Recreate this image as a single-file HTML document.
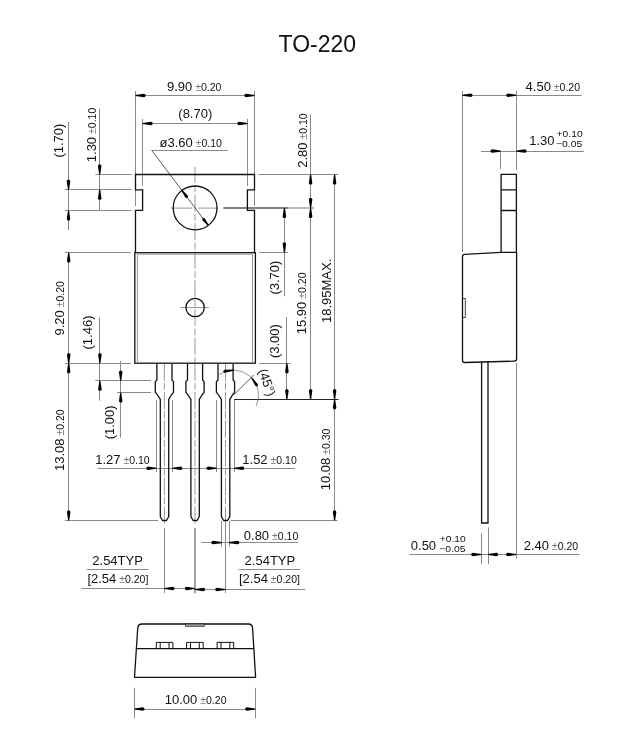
<!DOCTYPE html><html><head><meta charset="utf-8"><style>html,body{margin:0;padding:0;background:#fff;}svg{display:block;will-change:transform}</style></head><body>
<svg width="629" height="732" viewBox="0 0 629 732" font-family="Liberation Sans, sans-serif" fill="#111">
<line x1="195" y1="167" x2="195" y2="363" stroke="#9a9a9a" stroke-width="1" stroke-dasharray="17.2 2.2 7 2.2" stroke-dashoffset="1.1"/>
<line x1="171" y1="208.1" x2="192.4" y2="208.1" stroke="#9a9a9a" stroke-width="1" />
<line x1="198" y1="208.1" x2="218" y2="208.1" stroke="#9a9a9a" stroke-width="1" />
<line x1="180" y1="307.5" x2="209" y2="307.5" stroke="#9a9a9a" stroke-width="1" />
<line x1="164.4" y1="363.4" x2="164.4" y2="523.8" stroke="#9a9a9a" stroke-width="1" stroke-dasharray="17.2 2.2 7 2.2"/>
<line x1="195.0" y1="363.4" x2="195.0" y2="523.8" stroke="#9a9a9a" stroke-width="1" stroke-dasharray="17.2 2.2 7 2.2"/>
<line x1="225.5" y1="363.4" x2="225.5" y2="523.8" stroke="#9a9a9a" stroke-width="1" stroke-dasharray="17.2 2.2 7 2.2"/>
<line x1="135.5" y1="91" x2="135.5" y2="206" stroke="#8a8a8a" stroke-width="1" />
<line x1="254.5" y1="91" x2="254.5" y2="206" stroke="#8a8a8a" stroke-width="1" />
<line x1="135.5" y1="95.5" x2="254.5" y2="95.5" stroke="#8a8a8a" stroke-width="1" />
<line x1="142.5" y1="119" x2="142.5" y2="186" stroke="#8a8a8a" stroke-width="1" />
<line x1="247.5" y1="119" x2="247.5" y2="186" stroke="#8a8a8a" stroke-width="1" />
<line x1="142.5" y1="123.5" x2="247.5" y2="123.5" stroke="#8a8a8a" stroke-width="1" />
<line x1="151.7" y1="150.5" x2="227.7" y2="150.5" stroke="#8a8a8a" stroke-width="1" />
<line x1="151.7" y1="150.3" x2="208.3" y2="225.4" stroke="#333" stroke-width="0.8" />
<line x1="95.4" y1="174.5" x2="131.5" y2="174.5" stroke="#8a8a8a" stroke-width="1" />
<line x1="65" y1="189.5" x2="131.5" y2="189.5" stroke="#8a8a8a" stroke-width="1" />
<line x1="65" y1="210.5" x2="131.5" y2="210.5" stroke="#8a8a8a" stroke-width="1" />
<line x1="65" y1="252.5" x2="130.8" y2="252.5" stroke="#8a8a8a" stroke-width="1" />
<line x1="65" y1="363.5" x2="130.8" y2="363.5" stroke="#8a8a8a" stroke-width="1" />
<line x1="95.2" y1="380.5" x2="151" y2="380.5" stroke="#8a8a8a" stroke-width="1" />
<line x1="117" y1="392.5" x2="151" y2="392.5" stroke="#8a8a8a" stroke-width="1" />
<line x1="65" y1="520.5" x2="158.3" y2="520.5" stroke="#8a8a8a" stroke-width="1" />
<line x1="68.5" y1="122" x2="68.5" y2="230" stroke="#8a8a8a" stroke-width="1" />
<line x1="99.5" y1="108.6" x2="99.5" y2="210.4" stroke="#8a8a8a" stroke-width="1" />
<line x1="68.5" y1="252.5" x2="68.5" y2="520.5" stroke="#8a8a8a" stroke-width="1" />
<line x1="99.5" y1="317.4" x2="99.5" y2="400.6" stroke="#8a8a8a" stroke-width="1" />
<line x1="120.5" y1="361" x2="120.5" y2="437.7" stroke="#8a8a8a" stroke-width="1" />
<line x1="156.5" y1="400" x2="156.5" y2="472" stroke="#8a8a8a" stroke-width="1" />
<line x1="172.5" y1="400" x2="172.5" y2="472" stroke="#8a8a8a" stroke-width="1" />
<line x1="216.5" y1="400" x2="216.5" y2="472" stroke="#8a8a8a" stroke-width="1" />
<line x1="234.5" y1="400" x2="234.5" y2="472" stroke="#8a8a8a" stroke-width="1" />
<line x1="98" y1="468.5" x2="295" y2="468.5" stroke="#8a8a8a" stroke-width="1" />
<line x1="258.6" y1="174.5" x2="338.3" y2="174.5" stroke="#8a8a8a" stroke-width="1" />
<line x1="223.3" y1="208.0" x2="288.2" y2="208.0" stroke="#555" stroke-width="1.5" />
<line x1="288.2" y1="208.0" x2="314" y2="208.0" stroke="#8a8a8a" stroke-width="1.2" />
<line x1="259" y1="252.5" x2="288.1" y2="252.5" stroke="#8a8a8a" stroke-width="1" />
<line x1="259" y1="363.5" x2="290.5" y2="363.5" stroke="#8a8a8a" stroke-width="1" />
<line x1="234.1" y1="399.5" x2="338.5" y2="399.5" stroke="#222" stroke-width="1" />
<line x1="230.5" y1="520.5" x2="337.4" y2="520.5" stroke="#8a8a8a" stroke-width="1" />
<line x1="310.5" y1="114.3" x2="310.5" y2="399.3" stroke="#8a8a8a" stroke-width="1" />
<line x1="334.5" y1="174.5" x2="334.5" y2="520.5" stroke="#8a8a8a" stroke-width="1" />
<line x1="284.5" y1="208" x2="284.5" y2="296.3" stroke="#8a8a8a" stroke-width="1" />
<line x1="286.5" y1="317.2" x2="286.5" y2="399.3" stroke="#8a8a8a" stroke-width="1" />
<path d="M218.95,374.66 A25.2,25.2 0 0 1 256.24,405.95" fill="none" stroke="#777" stroke-width="0.8"/>
<line x1="233.6" y1="395.1" x2="253.8" y2="374.9" stroke="#333" stroke-width="0.8" />
<line x1="164.5" y1="528" x2="164.5" y2="593" stroke="#8a8a8a" stroke-width="1" />
<line x1="195" y1="528" x2="195" y2="593.3" stroke="#8a8a8a" stroke-width="1.6" />
<line x1="225.5" y1="521.4" x2="225.5" y2="593" stroke="#8a8a8a" stroke-width="1" />
<line x1="221.5" y1="521" x2="221.5" y2="546.6" stroke="#8a8a8a" stroke-width="1" />
<line x1="229.5" y1="521" x2="229.5" y2="546.6" stroke="#8a8a8a" stroke-width="1" />
<line x1="201.5" y1="542.5" x2="298" y2="542.5" stroke="#8a8a8a" stroke-width="1" />
<line x1="81.4" y1="588.5" x2="195" y2="588.5" stroke="#8a8a8a" stroke-width="1" />
<line x1="195" y1="589.5" x2="305.4" y2="589.5" stroke="#8a8a8a" stroke-width="1" />
<line x1="86.9" y1="569.5" x2="148.4" y2="569.5" stroke="#8a8a8a" stroke-width="1" />
<line x1="238.6" y1="569.5" x2="300" y2="569.5" stroke="#8a8a8a" stroke-width="1" />
<line x1="462.5" y1="91" x2="462.5" y2="252" stroke="#8a8a8a" stroke-width="1" />
<line x1="516.5" y1="91" x2="516.5" y2="170" stroke="#8a8a8a" stroke-width="1" />
<line x1="500.5" y1="151" x2="500.5" y2="169" stroke="#8a8a8a" stroke-width="1" />
<line x1="462.4" y1="95.5" x2="581.7" y2="95.5" stroke="#8a8a8a" stroke-width="1" />
<line x1="481" y1="151.5" x2="584.1" y2="151.5" stroke="#8a8a8a" stroke-width="1" />
<line x1="516.5" y1="363" x2="516.5" y2="558.5" stroke="#8a8a8a" stroke-width="1" />
<line x1="481.5" y1="533.3" x2="481.5" y2="564.2" stroke="#8a8a8a" stroke-width="1" />
<line x1="488.5" y1="527.4" x2="488.5" y2="564.2" stroke="#8a8a8a" stroke-width="1" />
<line x1="409.5" y1="554.5" x2="579.6" y2="554.5" stroke="#8a8a8a" stroke-width="1" />
<line x1="134.5" y1="687.8" x2="134.5" y2="718.3" stroke="#8a8a8a" stroke-width="1" />
<line x1="255.5" y1="687.8" x2="255.5" y2="718.3" stroke="#8a8a8a" stroke-width="1" />
<line x1="134.4" y1="709.5" x2="255.3" y2="709.5" stroke="#8a8a8a" stroke-width="1" />
<path d="M135.5,252.7 V210.4 H142.6 V189.8 H135.5 V174.5 H254.5 V189.8 H247.4 V210.4 H254.5 V252.7" fill="none" stroke="#111" stroke-width="1.3" />
<circle cx="195.1" cy="207.9" r="21.9" fill="none" stroke="#111" stroke-width="1.3"/>
<rect x="134.8" y="252.7" width="120.6" height="110.5" fill="none" stroke="#111" stroke-width="1.3"/>
<path d="M137.4,363 V254.2 H252.5 V363" fill="none" stroke="#999" stroke-width="1" />
<circle cx="195.1" cy="307.5" r="9.2" fill="none" stroke="#111" stroke-width="1.3"/>
<path d="M156.9,363.5 V380 L155.3,381.6 V392.4 L156.8,394 L160.3,399.3 V516.5 L162.5,520.5 H166.5 L168.7,516.5 V399.3 L172.0,394 L173.5,392.4 V381.6 L172.0,380 V363.5" fill="none" stroke="#111" stroke-width="1.3" stroke-linejoin="round"/>
<path d="M187.5,363.5 V380 L185.9,381.6 V392.4 L187.4,394 L190.9,399.3 V516.5 L193.1,520.5 H197.1 L199.3,516.5 V399.3 L202.6,394 L204.1,392.4 V381.6 L202.6,380 V363.5" fill="none" stroke="#111" stroke-width="1.3" stroke-linejoin="round"/>
<path d="M218.0,363.5 V380 L216.4,381.6 V392.4 L217.9,394 L221.4,399.3 V516.5 L223.6,520.5 H227.6 L229.8,516.5 V399.3 L233.1,394 L234.6,392.4 V381.6 L233.1,380 V363.5" fill="none" stroke="#111" stroke-width="1.3" stroke-linejoin="round"/>
<path d="M501.1,252.3 V174.4 H516.4 V252.3 M501.1,189.8 H516.4 M501.1,210.5 H516.4" fill="none" stroke="#111" stroke-width="1.3" />
<path d="M464.7,254.4 L501.1,252.4 H516.6 V358.8 Q516.6,361 514.5,361.1 L464.7,362.5 Q462.5,362.5 462.5,360.3 V256.6 Q462.5,254.5 464.7,254.4 Z" fill="none" stroke="#111" stroke-width="1.3" />
<path d="M462.5,298.5 H465.3 V317.5 H462.5" fill="none" stroke="#111" stroke-width="0.8" />
<path d="M481.6,362 V523 H488 V361.8" fill="none" stroke="#111" stroke-width="1.3" />
<path d="M134.5,677.3 L137.7,628.5 Q138,624 142,624 H248.5 Q252.5,624 252.6,628.5 L255.6,677.3 Z" fill="none" stroke="#111" stroke-width="1.3" stroke-linejoin="round"/>
<path d="M136.3,648.7 H254" fill="none" stroke="#111" stroke-width="1.3" />
<rect x="185.6" y="624" width="18.7" height="2.3" fill="#999" stroke="#111" stroke-width="0.6"/>
<path d="M156.29999999999998,648.7 V642.4 H172.9 V648.7 M160.2,642.4 V648.7 M169.0,642.4 V648.7" fill="none" stroke="#111" stroke-width="1" />
<path d="M186.6,648.7 V642.4 H203.20000000000002 V648.7 M190.5,642.4 V648.7 M199.3,642.4 V648.7" fill="none" stroke="#111" stroke-width="1" />
<path d="M217.1,648.7 V642.4 H233.70000000000002 V648.7 M221.0,642.4 V648.7 M229.8,642.4 V648.7" fill="none" stroke="#111" stroke-width="1" />
<text x="278.5" y="51.5" font-size="23" text-anchor="start" >TO-220</text>
<polygon points="135.50,94.95 144.00,93.75 145.50,94.45 145.50,96.55 144.00,97.25 135.50,96.05" fill="#000"/>
<polygon points="254.50,96.05 246.00,97.25 244.50,96.55 244.50,94.45 246.00,93.75 254.50,94.95" fill="#000"/>
<text x="167" y="90.7" text-anchor="start" xml:space="preserve"><tspan font-size="13">9.90</tspan><tspan font-size="10.5"> <tspan fill="#777">±</tspan>0.20</tspan></text>
<polygon points="142.50,122.95 151.00,121.75 152.50,122.45 152.50,124.55 151.00,125.25 142.50,124.05" fill="#000"/>
<polygon points="247.50,124.05 239.00,125.25 237.50,124.55 237.50,122.45 239.00,121.75 247.50,122.95" fill="#000"/>
<text x="178.3" y="118.1" text-anchor="start" xml:space="preserve"><tspan font-size="13">(8.70)</tspan></text>
<polygon points="182.34,190.07 187.70,195.61 188.04,197.05 186.60,198.13 185.31,197.41 181.46,190.73" fill="#000"/>
<polygon points="207.86,225.73 202.50,220.19 202.16,218.75 203.60,217.67 204.89,218.39 208.74,225.07" fill="#000"/>
<text x="159.5" y="146.7" text-anchor="start" xml:space="preserve"><tspan font-size="13">ø3.60</tspan><tspan font-size="10.5"> <tspan fill="#777">±</tspan>0.10</tspan></text>
<polygon points="67.95,189.80 66.75,181.30 67.45,179.80 69.55,179.80 70.25,181.30 69.05,189.80" fill="#000"/>
<polygon points="69.05,210.40 70.25,218.90 69.55,220.40 67.45,220.40 66.75,218.90 67.95,210.40" fill="#000"/>
<text x="0" y="0" transform="translate(63.3,157.6) rotate(-90)" text-anchor="start" xml:space="preserve"><tspan font-size="13">(1.70)</tspan></text>
<polygon points="99.15,174.50 97.95,166.00 98.65,164.50 100.75,164.50 101.45,166.00 100.25,174.50" fill="#000"/>
<polygon points="100.25,189.80 101.45,198.30 100.75,199.80 98.65,199.80 97.95,198.30 99.15,189.80" fill="#000"/>
<text x="0" y="0" transform="translate(95.8,162.2) rotate(-90)" text-anchor="start" xml:space="preserve"><tspan font-size="13">1.30</tspan><tspan font-size="10.5"> <tspan fill="#777">±</tspan>0.10</tspan></text>
<polygon points="69.25,252.50 70.45,261.00 69.75,262.50 67.65,262.50 66.95,261.00 68.15,252.50" fill="#000"/>
<polygon points="68.15,363.30 66.95,354.80 67.65,353.30 69.75,353.30 70.45,354.80 69.25,363.30" fill="#000"/>
<polygon points="69.25,363.30 70.45,371.80 69.75,373.30 67.65,373.30 66.95,371.80 68.15,363.30" fill="#000"/>
<polygon points="68.15,520.50 66.95,512.00 67.65,510.50 69.75,510.50 70.45,512.00 69.25,520.50" fill="#000"/>
<text x="0" y="0" transform="translate(64.2,335.5) rotate(-90)" text-anchor="start" xml:space="preserve"><tspan font-size="13">9.20</tspan><tspan font-size="10.5"> <tspan fill="#777">±</tspan>0.20</tspan></text>
<text x="0" y="0" transform="translate(64.2,471.0) rotate(-90)" text-anchor="start" xml:space="preserve"><tspan font-size="13">13.08</tspan><tspan font-size="10.5"> <tspan fill="#777">±</tspan>0.20</tspan></text>
<polygon points="99.35,363.30 98.15,354.80 98.85,353.30 100.95,353.30 101.65,354.80 100.45,363.30" fill="#000"/>
<polygon points="100.45,380.80 101.65,389.30 100.95,390.80 98.85,390.80 98.15,389.30 99.35,380.80" fill="#000"/>
<text x="0" y="0" transform="translate(92.0,349.5) rotate(-90)" text-anchor="start" xml:space="preserve"><tspan font-size="13">(1.46)</tspan></text>
<polygon points="120.15,380.80 118.95,372.30 119.65,370.80 121.75,370.80 122.45,372.30 121.25,380.80" fill="#000"/>
<polygon points="121.25,392.60 122.45,401.10 121.75,402.60 119.65,402.60 118.95,401.10 120.15,392.60" fill="#000"/>
<text x="0" y="0" transform="translate(114.0,439.3) rotate(-90)" text-anchor="start" xml:space="preserve"><tspan font-size="13">(1.00)</tspan></text>
<polygon points="156.50,468.85 148.00,470.05 146.50,469.35 146.50,467.25 148.00,466.55 156.50,467.75" fill="#000"/>
<polygon points="172.20,467.75 180.70,466.55 182.20,467.25 182.20,469.35 180.70,470.05 172.20,468.85" fill="#000"/>
<polygon points="216.70,468.85 208.20,470.05 206.70,469.35 206.70,467.25 208.20,466.55 216.70,467.75" fill="#000"/>
<polygon points="234.10,467.75 242.60,466.55 244.10,467.25 244.10,469.35 242.60,470.05 234.10,468.85" fill="#000"/>
<text x="95.2" y="464.3" text-anchor="start" xml:space="preserve"><tspan font-size="13">1.27</tspan><tspan font-size="10.5"> <tspan fill="#777">±</tspan>0.10</tspan></text>
<text x="242.3" y="464.3" text-anchor="start" xml:space="preserve"><tspan font-size="13">1.52</tspan><tspan font-size="10.5"> <tspan fill="#777">±</tspan>0.10</tspan></text>
<polygon points="311.15,174.50 312.35,183.00 311.65,184.50 309.55,184.50 308.85,183.00 310.05,174.50" fill="#000"/>
<polygon points="310.05,208.00 308.85,199.50 309.55,198.00 311.65,198.00 312.35,199.50 311.15,208.00" fill="#000"/>
<polygon points="311.15,208.00 312.35,216.50 311.65,218.00 309.55,218.00 308.85,216.50 310.05,208.00" fill="#000"/>
<polygon points="310.05,399.30 308.85,390.80 309.55,389.30 311.65,389.30 312.35,390.80 311.15,399.30" fill="#000"/>
<text x="0" y="0" transform="translate(306.5,167.8) rotate(-90)" text-anchor="start" xml:space="preserve"><tspan font-size="13">2.80</tspan><tspan font-size="10.5"> <tspan fill="#777">±</tspan>0.10</tspan></text>
<text x="0" y="0" transform="translate(306.3,334.2) rotate(-90)" text-anchor="start" xml:space="preserve"><tspan font-size="13">15.90</tspan><tspan font-size="10.5"> <tspan fill="#777">±</tspan>0.20</tspan></text>
<polygon points="335.15,174.50 336.35,183.00 335.65,184.50 333.55,184.50 332.85,183.00 334.05,174.50" fill="#000"/>
<polygon points="334.05,399.30 332.85,390.80 333.55,389.30 335.65,389.30 336.35,390.80 335.15,399.30" fill="#000"/>
<polygon points="335.15,399.30 336.35,407.80 335.65,409.30 333.55,409.30 332.85,407.80 334.05,399.30" fill="#000"/>
<polygon points="334.05,520.50 332.85,512.00 333.55,510.50 335.65,510.50 336.35,512.00 335.15,520.50" fill="#000"/>
<text x="0" y="0" transform="translate(330.5,323.0) rotate(-90)" text-anchor="start" xml:space="preserve"><tspan font-size="13">18.95MAX.</tspan></text>
<text x="0" y="0" transform="translate(330.3,490.3) rotate(-90)" text-anchor="start" xml:space="preserve"><tspan font-size="13">10.08</tspan><tspan font-size="10.5"> <tspan fill="#777">±</tspan>0.30</tspan></text>
<polygon points="284.95,208.00 286.15,216.50 285.45,218.00 283.35,218.00 282.65,216.50 283.85,208.00" fill="#000"/>
<polygon points="283.85,252.50 282.65,244.00 283.35,242.50 285.45,242.50 286.15,244.00 284.95,252.50" fill="#000"/>
<text x="0" y="0" transform="translate(278.6,294.6) rotate(-90)" text-anchor="start" xml:space="preserve"><tspan font-size="13">(3.70)</tspan></text>
<polygon points="287.45,363.30 288.65,371.80 287.95,373.30 285.85,373.30 285.15,371.80 286.35,363.30" fill="#000"/>
<polygon points="286.35,399.30 285.15,390.80 285.85,389.30 287.95,389.30 288.65,390.80 287.45,399.30" fill="#000"/>
<text x="0" y="0" transform="translate(279.1,358.1) rotate(-90)" text-anchor="start" xml:space="preserve"><tspan font-size="13">(3.00)</tspan></text>
<polygon points="233.48,370.64 225.19,372.77 223.62,372.38 223.37,370.60 224.77,369.80 233.32,369.56" fill="#000"/>
<polygon points="252.05,377.58 257.70,384.00 258.07,385.58 256.60,386.61 255.25,385.72 251.15,378.22" fill="#000"/>
<text x="0" y="0" transform="translate(258.2,370.4) rotate(71)" font-size="13">(45°)</text>
<polygon points="221.50,543.15 213.00,544.35 211.50,543.65 211.50,541.55 213.00,540.85 221.50,542.05" fill="#000"/>
<polygon points="229.10,542.05 237.60,540.85 239.10,541.55 239.10,543.65 237.60,544.35 229.10,543.15" fill="#000"/>
<text x="243.8" y="539.6" text-anchor="start" xml:space="preserve"><tspan font-size="13">0.80</tspan><tspan font-size="10.5"> <tspan fill="#777">±</tspan>0.10</tspan></text>
<polygon points="164.40,587.95 172.90,586.75 174.40,587.45 174.40,589.55 172.90,590.25 164.40,589.05" fill="#000"/>
<polygon points="195.00,589.05 186.50,590.25 185.00,589.55 185.00,587.45 186.50,586.75 195.00,587.95" fill="#000"/>
<polygon points="195.00,588.95 203.50,587.75 205.00,588.45 205.00,590.55 203.50,591.25 195.00,590.05" fill="#000"/>
<polygon points="225.40,590.05 216.90,591.25 215.40,590.55 215.40,588.45 216.90,587.75 225.40,588.95" fill="#000"/>
<text x="92.3" y="564.8" text-anchor="start" xml:space="preserve"><tspan font-size="13">2.54TYP</tspan></text>
<text x="87.4" y="582.6" text-anchor="start" xml:space="preserve"><tspan font-size="13">[2.54</tspan><tspan font-size="10.5"> <tspan fill="#777">±</tspan>0.20]</tspan></text>
<text x="244.6" y="564.9" text-anchor="start" xml:space="preserve"><tspan font-size="13">2.54TYP</tspan></text>
<text x="239.0" y="582.6" text-anchor="start" xml:space="preserve"><tspan font-size="13">[2.54</tspan><tspan font-size="10.5"> <tspan fill="#777">±</tspan>0.20]</tspan></text>
<polygon points="462.40,94.65 470.90,93.45 472.40,94.15 472.40,96.25 470.90,96.95 462.40,95.75" fill="#000"/>
<polygon points="516.40,95.75 507.90,96.95 506.40,96.25 506.40,94.15 507.90,93.45 516.40,94.65" fill="#000"/>
<text x="525.6" y="91.1" text-anchor="start" xml:space="preserve"><tspan font-size="13">4.50</tspan><tspan font-size="10.5"> <tspan fill="#777">±</tspan>0.20</tspan></text>
<polygon points="500.60,151.65 492.10,152.85 490.60,152.15 490.60,150.05 492.10,149.35 500.60,150.55" fill="#000"/>
<polygon points="516.40,150.55 524.90,149.35 526.40,150.05 526.40,152.15 524.90,152.85 516.40,151.65" fill="#000"/>
<text x="529.2" y="145.1" text-anchor="start" xml:space="preserve"><tspan font-size="13">1.30</tspan></text>
<text x="556.6" y="136.8" font-size="9.2" text-anchor="start" textLength="26" lengthAdjust="spacingAndGlyphs">+0.10</text>
<text x="556.0" y="147.3" font-size="9.2" text-anchor="start" textLength="26.3" lengthAdjust="spacingAndGlyphs">−0.05</text>
<polygon points="481.40,555.05 472.90,556.25 471.40,555.55 471.40,553.45 472.90,552.75 481.40,553.95" fill="#000"/>
<polygon points="488.00,553.95 496.50,552.75 498.00,553.45 498.00,555.55 496.50,556.25 488.00,555.05" fill="#000"/>
<polygon points="516.20,555.05 507.70,556.25 506.20,555.55 506.20,553.45 507.70,552.75 516.20,553.95" fill="#000"/>
<text x="410.8" y="549.6" text-anchor="start" xml:space="preserve"><tspan font-size="13">0.50</tspan></text>
<text x="439.7" y="541.8" font-size="9.2" text-anchor="start" textLength="26" lengthAdjust="spacingAndGlyphs">+0.10</text>
<text x="439.3" y="551.8" font-size="9.2" text-anchor="start" textLength="26.3" lengthAdjust="spacingAndGlyphs">−0.05</text>
<text x="523.7" y="549.6" text-anchor="start" xml:space="preserve"><tspan font-size="13">2.40</tspan><tspan font-size="10.5"> <tspan fill="#777">±</tspan>0.20</tspan></text>
<polygon points="134.40,708.45 142.90,707.25 144.40,707.95 144.40,710.05 142.90,710.75 134.40,709.55" fill="#000"/>
<polygon points="255.30,709.55 246.80,710.75 245.30,710.05 245.30,707.95 246.80,707.25 255.30,708.45" fill="#000"/>
<text x="164.8" y="704.1" text-anchor="start" xml:space="preserve"><tspan font-size="13">10.00</tspan><tspan font-size="10.5"> <tspan fill="#777">±</tspan>0.20</tspan></text>
</svg></body></html>
